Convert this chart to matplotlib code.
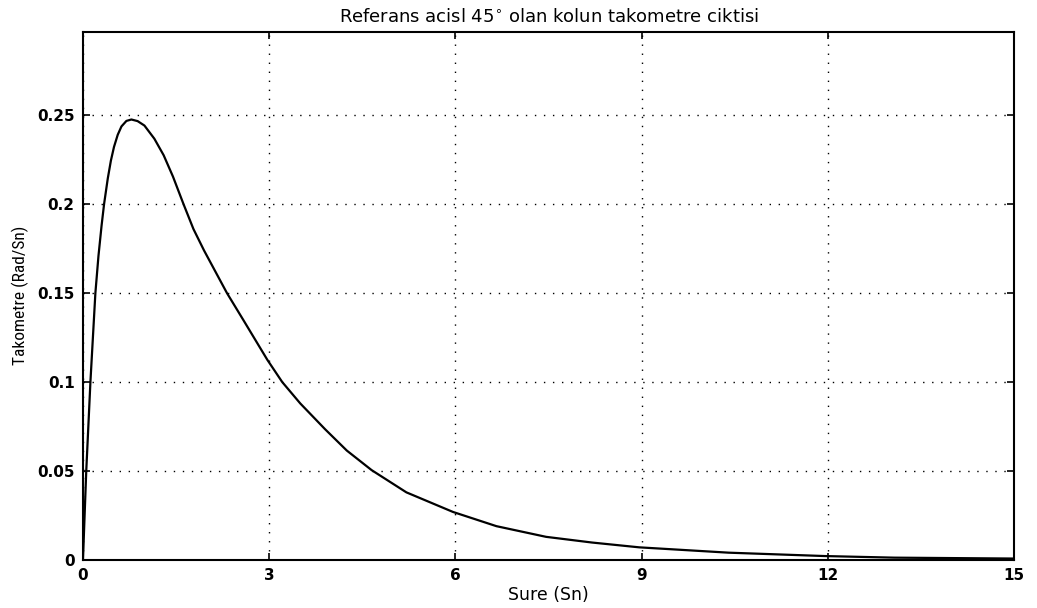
import matplotlib
matplotlib.use("Agg")
import matplotlib.pyplot as plt

# Data
time_s = [0, 0.053, 0.12, 0.2, 0.25, 0.3, 0.34, 0.4, 0.45, 0.5, 0.56, 0.62, 0.7, 0.78,
          0.88, 0.99, 1.15, 1.3, 1.45, 1.62, 1.78, 1.95, 2.32, 2.59, 2.97, 3.21, 3.5, 3.9,
          4.25, 4.65, 5.21, 5.96, 6.66, 7.46, 8.2, 8.96, 10.4, 11.95, 13.07, 15.0]
tacho = [0, 0.05, 0.1, 0.15, 0.171, 0.188, 0.2, 0.2145, 0.2245, 0.2322, 0.239, 0.2437, 0.2468, 0.2476,
         0.2467, 0.2442, 0.2368, 0.2275, 0.2155, 0.2, 0.186, 0.174, 0.15, 0.1345, 0.1125, 0.1, 0.088, 0.0735,
         0.0615, 0.0505, 0.038, 0.027, 0.019, 0.013, 0.0098, 0.0071, 0.0041, 0.0022, 0.0013, 0.0008]

x_ticks = [0, 3, 6, 9, 12, 15]
y_ticks = [0, 0.05, 0.1, 0.15, 0.2, 0.25]
y_tick_labels = ["0", "0.05", "0.1", "0.15", "0.2", "0.25"]

title_text = r"Referans acisl 45$^{\circ}$ olan kolun takometre ciktisi"
x_label = "Sure (Sn)"
y_label = "Takometre (Rad/Sn)"

plt.rcParams['font.family'] = ['DejaVu Sans']
plt.rcParams['mathtext.fontset'] = 'dejavusans'

fig = plt.figure(figsize=(10.37, 6.08), dpi=100)
ax = fig.add_axes([0.080, 0.079, 0.898, 0.869])

ax.plot(time_s, tacho, color='black', linewidth=1.6,
        solid_joinstyle='round', solid_capstyle='round')

ax.set_xlim(0, 15)
ax.set_ylim(0, 0.297)
ax.set_xticks(x_ticks)
ax.set_xticklabels([str(v) for v in x_ticks])
ax.set_yticks(y_ticks)
ax.set_yticklabels(y_tick_labels)

ax.grid(True, color='black', linestyle=(0, (1, 5.5)), linewidth=1.0)
ax.tick_params(direction='in', length=5, width=1.2, top=True, right=True,
               labelsize=11, pad=6)
for lab in ax.get_xticklabels() + ax.get_yticklabels():
    lab.set_fontweight('bold')
for s in ax.spines.values():
    s.set_linewidth(1.5)

ax.set_title(title_text, fontsize=13, pad=7)
ax.set_xlabel(x_label, fontsize=12.5, labelpad=2)
ax.set_ylabel(y_label, fontsize=12.5,
              family=['Roboto Condensed', 'Liberation Sans Narrow', 'Liberation Sans'],
              labelpad=6)

fig.savefig("out.png", dpi=100)
